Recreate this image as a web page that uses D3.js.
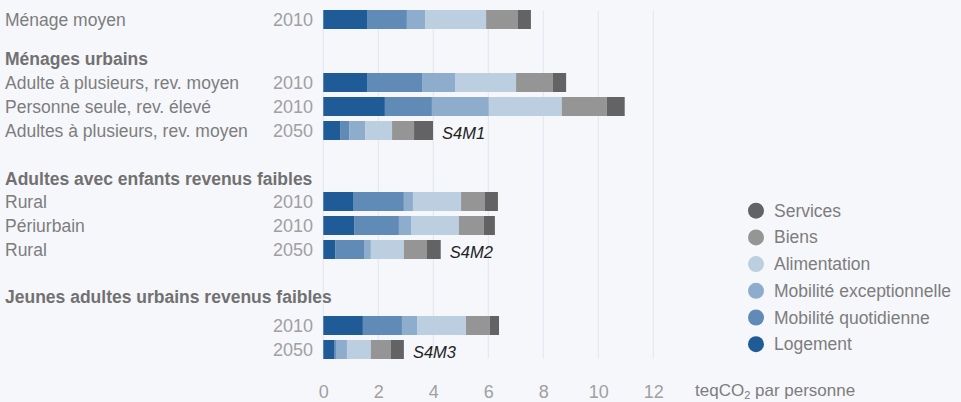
<!DOCTYPE html>
<html lang="fr">
<head>
<meta charset="utf-8">
<script src="https://cdn.jsdelivr.net/npm/d3@7"></script>
<style>
  html, body { margin: 0; padding: 0; background: #f6f7fb; }
  svg { display: block; font-family: "Liberation Sans", "Helvetica Neue", Arial, sans-serif; }
</style>
</head>
<body>
<svg id="chart" width="961" height="402"></svg>
<script>
// Empreinte carbone par type de ménage (teqCO2 par personne)
const categories = ["Logement", "Mobilité quotidienne", "Mobilité exceptionnelle", "Alimentation", "Biens", "Services"];
const groupTitles = ["", "Ménages urbains", "Adultes avec enfants revenus faibles", "Jeunes adultes urbains revenus faibles"];
const rowLabels = ["Ménage moyen", "Adulte à plusieurs, rev. moyen", "Personne seule, rev. élevé", "Adultes à plusieurs, rev. moyen", "Rural", "Périurbain", "Rural", "", ""];
const rowGroups = [0, 1, 1, 1, 2, 2, 2, 3, 3];
const years = ["2010", "2010", "2010", "2050", "2010", "2010", "2050", "2010", "2050"];
const scenarios = ["", "", "", "S4M1", "", "", "S4M2", "", "S4M3"];

const logement = [1.59, 1.59, 2.24, 0.61, 1.08, 1.12, 0.43, 1.44, 0.39];
const mobiliteQuotidienne = [1.45, 2.00, 1.71, 0.33, 1.85, 1.63, 1.05, 1.42, 0.07];
const mobiliteExceptionnelle = [0.66, 1.20, 2.07, 0.58, 0.33, 0.44, 0.25, 0.55, 0.40];
const alimentation = [2.22, 2.22, 2.65, 0.98, 1.75, 1.74, 1.20, 1.78, 0.87];
const biens = [1.16, 1.34, 1.64, 0.80, 0.87, 0.91, 0.84, 0.87, 0.73];
const services = [0.47, 0.48, 0.65, 0.69, 0.47, 0.40, 0.50, 0.33, 0.47];

const xTicks = [0, 2, 4, 6, 8, 10, 12];
const unitLabel = "teqCO";

const colors = ["#1f5b97", "#5f8bb6", "#8eadcc", "#bbcfe0", "#959595", "#636365"];

// Table built from the series arrays
const seriesValues = [logement, mobiliteQuotidienne, mobiliteExceptionnelle, alimentation, biens, services];
const table = rowLabels.map((label, i) => {
  const row = { index: i, label, group: rowGroups[i], year: years[i], scenario: scenarios[i] };
  categories.forEach((c, k) => { row[c] = seriesValues[k][i]; });
  return row;
});
const stacked = d3.stack().keys(categories)(table);

// Layout
const svg = d3.select("#chart");
const x = d3.scaleLinear().domain([0, 12]).range([323.3, 653.3]);
const rowStep = 24, barH = 19, firstTop = 10;
const groupSpace = [0, 39, 47, 52];
const titleGap = [0, 8, 7, 13];
const cumSpace = groupSpace.map((_, g) => d3.sum(groupSpace.slice(0, g + 1)));
const yTop = i => firstTop + i * rowStep + cumSpace[rowGroups[i]];

// Gridlines
svg.append("g").selectAll("line").data(xTicks).join("line")
  .attr("x1", d => x(d)).attr("x2", d => x(d))
  .attr("y1", 10.5).attr("y2", 358.5)
  .attr("stroke", "#e2e6ee").attr("stroke-width", 1);

// Bars
svg.append("g").selectAll("g").data(stacked).join("g")
  .attr("fill", (d, k) => colors[k])
  .selectAll("rect").data(d => d).join("rect")
  .attr("x", d => x(d[0]))
  .attr("width", d => x(d[1]) - x(d[0]))
  .attr("y", (d, i) => yTop(i))
  .attr("height", barH);

// Group titles
groupTitles.forEach((t, g) => {
  if (!t) return;
  const first = rowGroups.indexOf(g);
  svg.append("text")
    .attr("x", 5).attr("y", yTop(first) - titleGap[g])
    .attr("font-size", 17.5).attr("font-weight", "bold").attr("fill", "#717171")
    .text(t);
});

// Row labels and years
const rows = svg.append("g");
rows.selectAll("text.lab").data(table).join("text").attr("class", "lab")
  .attr("x", 5).attr("y", d => yTop(d.index) + barH / 2 + 6)
  .attr("font-size", 17.5).attr("fill", "#7d7d7d")
  .text(d => d.label);
rows.selectAll("text.yr").data(table).join("text").attr("class", "yr")
  .attr("x", 313).attr("y", d => yTop(d.index) + barH / 2 + 6)
  .attr("text-anchor", "end")
  .attr("font-size", 18).attr("fill", "#a0a0a0")
  .text(d => d.year);

// Scenario tags
const total = d => categories.reduce((s, c) => s + d[c], 0);
rows.selectAll("text.sc").data(table.filter(d => d.scenario)).join("text").attr("class", "sc")
  .attr("x", d => x(total(d)) + 9).attr("y", d => yTop(d.index) + barH / 2 + 8.5)
  .attr("font-size", 16.5).attr("font-style", "italic").attr("fill", "#222")
  .text(d => d.scenario);

// Axis
const axis = svg.append("g").attr("transform", "translate(0,380)")
  .call(d3.axisBottom(x).tickValues(xTicks).tickSize(0).tickPadding(0).tickFormat(d3.format("d")));
axis.select(".domain").remove();
axis.selectAll("text").attr("font-size", 18).attr("fill", "#a0a0a0")
  .attr("font-family", "Liberation Sans, Arial, sans-serif").attr("dy", "0.99em");

const unit = svg.append("text").attr("x", 695).attr("y", 396)
  .attr("font-size", 17).attr("fill", "#7d7d7d");
unit.append("tspan").text(unitLabel);
unit.append("tspan").attr("font-size", 11).attr("dy", 3).text("2");
unit.append("tspan").attr("dy", -3).text(" par personne");

// Legend (top entry = last stack layer)
const legend = svg.append("g");
const legendItems = categories.map((c, k) => ({ c, k })).reverse();
legend.selectAll("circle").data(legendItems).join("circle")
  .attr("cx", 756).attr("cy", (d, i) => 210.7 + i * 26.7).attr("r", 8)
  .attr("fill", d => colors[d.k]);
legend.selectAll("text").data(legendItems).join("text")
  .attr("x", 774).attr("y", (d, i) => 210.7 + i * 26.7 + 6)
  .attr("font-size", 17.5).attr("fill", "#7d7d7d")
  .text(d => d.c);
</script>
</body>
</html>
